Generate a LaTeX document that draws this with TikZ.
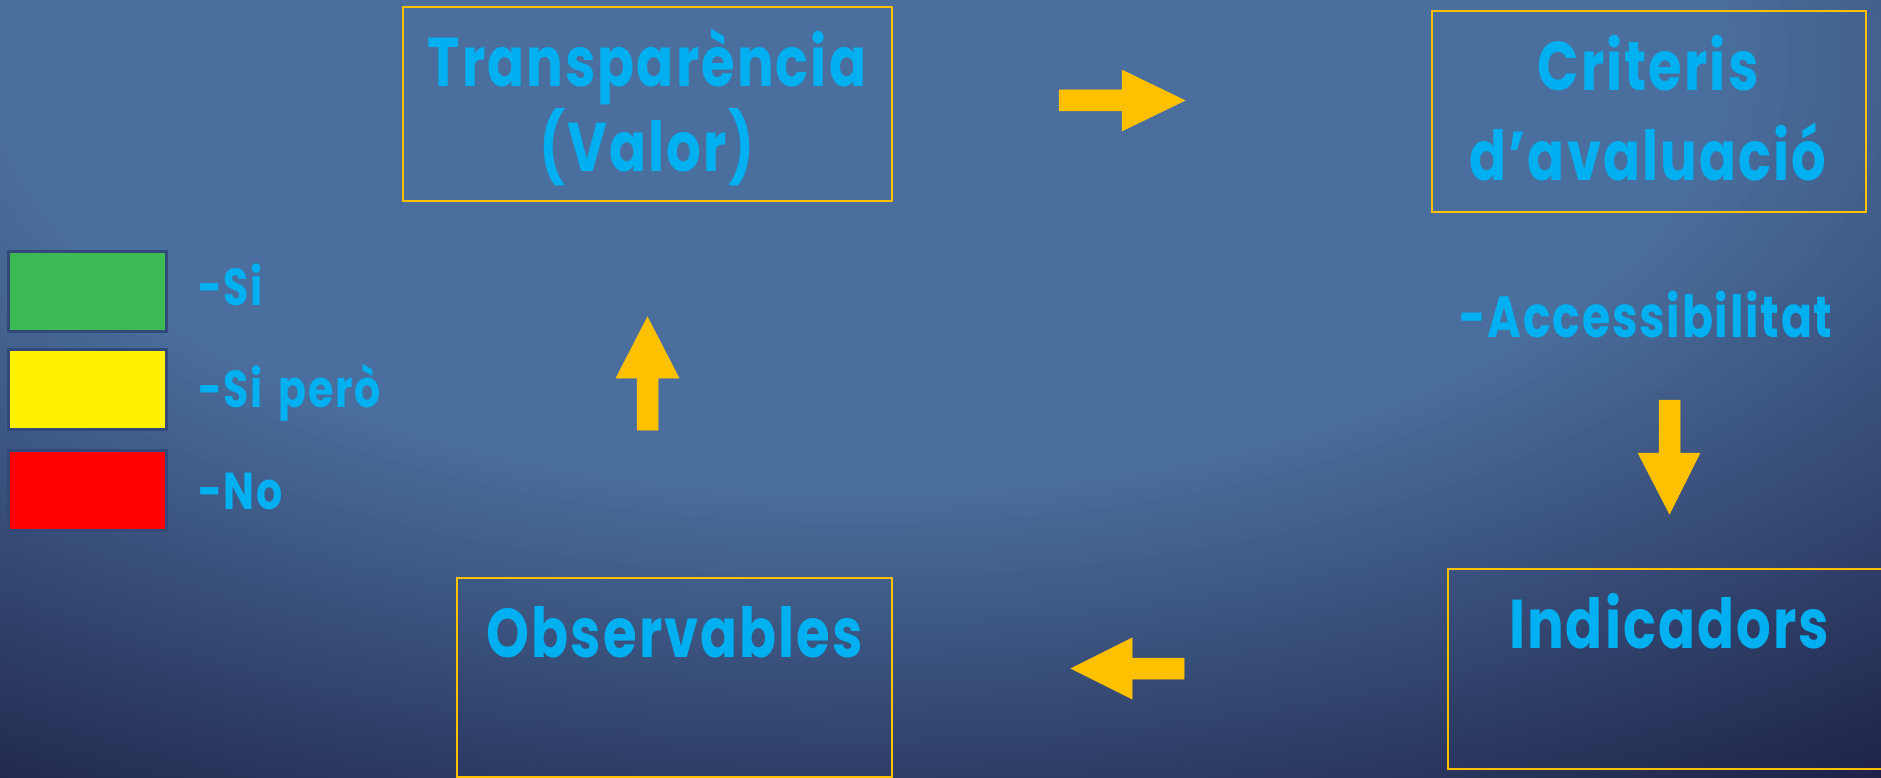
\documentclass[tikz,border=0pt]{standalone}
\usepackage{fontspec}
\setmainfont{Poppins}[UprightFont=* Bold, BoldFont=* Bold, FakeStretch=0.79, LetterSpace=3, WordSpace=1.6]
\definecolor{txt}{HTML}{00B0F0}
\definecolor{amber}{HTML}{FFC000}
\definecolor{bgdark}{RGB}{29,32,69}
\definecolor{bglight}{RGB}{74,110,157}
\definecolor{lgborder}{HTML}{33497A}
\definecolor{lgreen}{HTML}{3CBA54}
\tikzset{
  box/.style={draw=amber, line width=2pt, inner sep=0pt, outer sep=0pt},
  legsq/.style={draw=lgborder, line width=3pt, inner sep=0pt, minimum width=158pt, minimum height=80pt},
  bigtxt/.style={text=txt, inner sep=0pt, anchor=base, font=\fontsize{69}{80}\selectfont},
  midtxt/.style={text=txt, inner sep=0pt, anchor=base, font=\fontsize{58}{70}\selectfont},
  legtxt/.style={text=txt, inner sep=0pt, anchor=base west, font=\fontsize{52}{60}\selectfont},
  blockarrow/.style={fill=amber, draw=amber, line width=0.5pt, line join=miter}
}
\begin{document}
\begin{tikzpicture}[x=1pt, y=-1pt]
\useasboundingbox (0,0) rectangle (1881,778);
\begin{scope}
  \clip (0,0) rectangle (1881,778);
  \fill[bgdark] (0,0) rectangle (1881,778);
  \foreach \i in {0,...,70}{
    \pgfmathsetmacro{\r}{900-(\i/70)*470}
    \pgfmathsetmacro{\rr}{2*\r}
    \pgfmathsetmacro{\p}{(\i/70)*100}
    \fill[bglight!\p!bgdark] (860,60) ellipse ({\rr} and {\r});
  }
\end{scope}

% boxes
\node[box, minimum width=489pt, minimum height=194pt] (trans) at (647.5,104) {};
\node[box, minimum width=434pt, minimum height=201pt] (crit) at (1649,111.5) {};
\node[box, minimum width=435pt, minimum height=199pt] (obs) at (674.5,677.5) {};
\node[box, minimum width=440pt, minimum height=200pt] (ind) at (1668,669) {};

% box texts
\node[bigtxt] (transA) at (647,87) {Transparència};
\node[bigtxt] (transB) at (647,172) {(Valor)};
\node[bigtxt] (critA) at (1648,91) {Criteris};
\node[bigtxt] (critB) at (1648,181) {d’avaluació};
\node[midtxt] (acc) at (1646,337) {-Accessibilitat};
\node[bigtxt] (obsT) at (675,657) {Observables};
\node[bigtxt] (indT) at (1669,648) {Indicadors};

% legend
\node[legsq, fill=lgreen] (lg) at (87,291) {};
\node[legsq, fill=yellow] (ly) at (87,389) {};
\node[legsq, fill=red] (lr) at (87,490) {};
\node[legtxt] (lgt) at (198,305) {-Si};
\node[legtxt] (lyt) at (198,407) {-Si però};
\node[legtxt] (lrt) at (198,509) {-No};

% block arrows
\draw[blockarrow] (1059,90) -- (1122,90) -- (1122,70) -- (1185,100.5) -- (1122,131) -- (1122,111) -- (1059,111) -- cycle;
\draw[blockarrow] (1659,400) -- (1680,400) -- (1680,453) -- (1700,453) -- (1669.5,514) -- (1638,453) -- (1659,453) -- cycle;
\draw[blockarrow] (1184,658) -- (1132,658) -- (1132,638) -- (1071,668.5) -- (1132,699) -- (1132,679) -- (1184,679) -- cycle;
\draw[blockarrow] (637,430) -- (637,378) -- (616,378) -- (647.5,317) -- (679,378) -- (658,378) -- (658,430) -- cycle;
\end{tikzpicture}
\end{document}
